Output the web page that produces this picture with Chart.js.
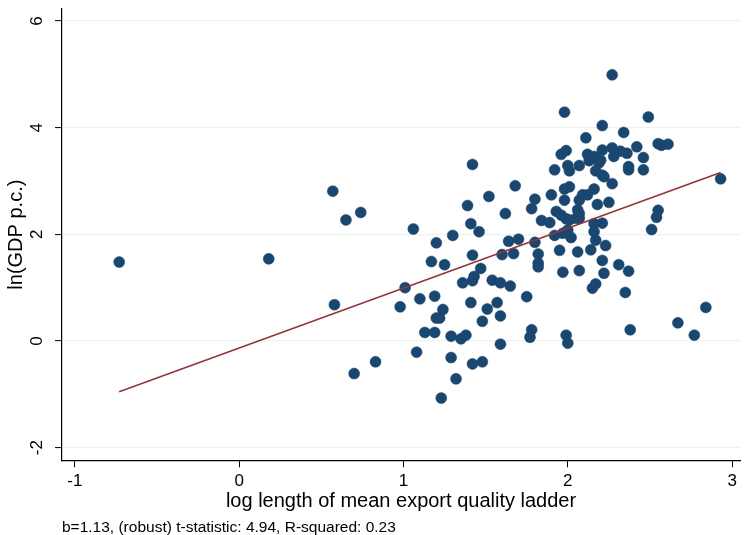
<!DOCTYPE html>
<html><head><meta charset="utf-8">
<script src="https://cdn.jsdelivr.net/npm/chart.js@4/dist/chart.umd.min.js"></script>
<style>html,body{margin:0;padding:0;background:#fff;overflow:hidden}#wrap{width:746px;height:535px;position:relative}</style>
</head><body><div id="wrap"><canvas id="c" width="746" height="535"></canvas></div>
<script>
const xValues = [-0.73,0.18,0.57,0.65,0.74,0.58,0.70,0.83,0.98,1.01,
2.27,1.98,2.49,2.21,2.34,2.11,2.55,2.57,2.61,2.42,
1.96,1.99,2.21,2.27,2.32,2.36,2.28,2.12,2.16,2.13,
2.20,2.19,2.46,2.00,2.01,2.07,1.92,2.37,2.37,2.46,
2.17,2.21,2.22,2.27,2.93,1.42,1.68,1.52,1.39,1.06,
1.90,1.98,2.01,2.16,1.80,1.98,2.07,2.09,2.12,2.25,
2.18,1.78,1.62,1.41,1.46,1.30,1.20,1.17,1.25,1.93,
1.96,1.99,2.01,2.06,2.07,2.05,2.07,1.84,1.89,2.16,
2.21,2.55,2.54,2.51,1.92,1.97,2.00,2.02,2.16,2.17,
1.80,1.64,1.70,2.23,1.95,2.06,2.14,1.60,1.67,1.82,
1.82,1.82,2.21,2.31,2.37,1.47,1.42,1.10,1.19,1.24,
1.20,1.22,1.13,1.19,1.29,1.35,1.38,1.36,1.42,1.43,
1.54,1.59,1.65,1.41,1.57,1.51,1.48,1.59,1.75,1.78,
1.77,1.59,1.08,1.29,1.42,1.48,1.32,1.23,1.97,2.07,
2.22,2.15,2.17,2.35,1.99,2.00,2.38,2.67,2.77,2.84];
const yValues = [1.48,1.54,2.81,2.27,2.41,0.68,-0.61,-0.39,0.64,1.00,
4.99,4.29,4.20,4.04,3.91,3.81,3.70,3.67,3.69,3.64,
3.50,3.57,3.58,3.62,3.56,3.52,3.46,3.50,3.46,3.38,
3.39,3.34,3.44,3.29,3.19,3.29,3.21,3.27,3.21,3.21,
3.19,3.11,3.08,2.95,3.04,3.31,2.91,2.71,2.54,2.10,
2.74,2.85,2.89,2.85,2.66,2.64,2.64,2.74,2.74,2.60,
2.56,2.48,2.39,2.20,2.05,1.98,1.84,1.49,1.43,2.43,
2.36,2.29,2.27,2.46,2.39,2.30,2.30,2.26,2.22,2.20,
2.21,2.45,2.32,2.09,1.98,2.02,2.08,1.94,2.05,1.89,
1.85,1.87,1.91,1.79,1.70,1.67,1.71,1.62,1.64,1.63,
1.46,1.39,1.51,1.43,1.31,1.36,1.61,0.79,0.84,0.59,
0.43,0.43,0.16,0.16,0.09,0.04,0.11,1.09,1.13,1.21,
1.14,1.09,1.03,0.72,0.72,0.60,0.37,0.47,0.83,0.21,
0.07,-0.06,-0.21,-0.31,-0.43,-0.39,-0.71,-1.07,1.29,1.32,
1.27,0.99,1.07,0.91,0.11,-0.04,0.21,0.34,0.11,0.63];
const fitX = [-0.73, 2.93];
const fitY = [-0.95, 3.16];
const xTicks = [-1, 0, 1, 2, 3];
const yTicks = [-2, 0, 2, 4, 6];
const xTitle = 'log length of mean export quality ladder';
const yTitle = 'ln(GDP p.c.)';
const note = 'b=1.13, (robust) t-statistic: 4.94, R-squared: 0.23';

const FONT = "'Liberation Sans', Arial, sans-serif";
const points = xValues.map((x, i) => ({x, y: yValues[i]}));
const fitLine = fitX.map((x, i) => ({x, y: fitY[i]}));

new Chart(document.getElementById('c'), {
  type: 'scatter',
  data: {
    datasets: [
      {type: 'line', data: fitLine, borderColor: '#90353b', borderWidth: 1.6, pointRadius: 0, fill: false, order: 0},
      {type: 'scatter', data: points, backgroundColor: '#1a476f', borderColor: '#1a476f', borderWidth: 0.5, pointRadius: 5.5, order: 1}
    ]
  },
  options: {
    responsive: false,
    animation: false,
    devicePixelRatio: 1,
    layout: {padding: {top: 9, left: 0, right: 0, bottom: 0}},
    plugins: {
      legend: {display: false},
      tooltip: {enabled: false},
      title: {
        display: true, position: 'bottom', align: 'start', fullSize: false,
        text: note, color: '#000',
        font: {family: FONT, size: 15.5, weight: 'normal', lineHeight: 1},
        padding: {top: 0, bottom: 0}
      }
    },
    scales: {
      x: {
        type: 'linear', min: -1.078, max: 3.048,
        afterBuildTicks: s => { s.ticks = xTicks.map(v => ({value: v})); },
        afterFit: s => { s.height = 59.2; s.paddingLeft = 0; s.paddingRight = 0; },
        ticks: {font: {family: FONT, size: 17}, color: '#000', padding: 3.5, maxRotation: 0, autoSkip: false, includeBounds: false},
        grid: {drawOnChartArea: false, tickLength: 7, tickColor: '#000', tickWidth: 1},
        border: {display: true, color: '#000', width: 1.2},
        title: {display: true, text: xTitle, color: '#000', font: {family: FONT, size: 20}, padding: {top: 0, bottom: 6}}
      },
      y: {
        type: 'linear', min: -2.237, max: 6.225,
        afterBuildTicks: s => { s.ticks = yTicks.map(v => ({value: v})); },
        afterFit: s => { s.width = 62; s.paddingTop = 0; s.paddingBottom = 0; },
        ticks: {font: {family: FONT, size: 17}, color: '#000', padding: 10, minRotation: 90, maxRotation: 90, crossAlign: 'center', autoSkip: false, includeBounds: false},
        grid: {color: '#eaf2f3', lineWidth: 1.2, tickLength: 7, tickColor: '#000', tickWidth: 1},
        border: {display: true, color: '#000', width: 1.2},
        title: {display: true, text: yTitle, color: '#000', font: {family: FONT, size: 20}, padding: {top: 4.4, bottom: 0}}
      }
    }
  }
});
</script>
</body></html>
